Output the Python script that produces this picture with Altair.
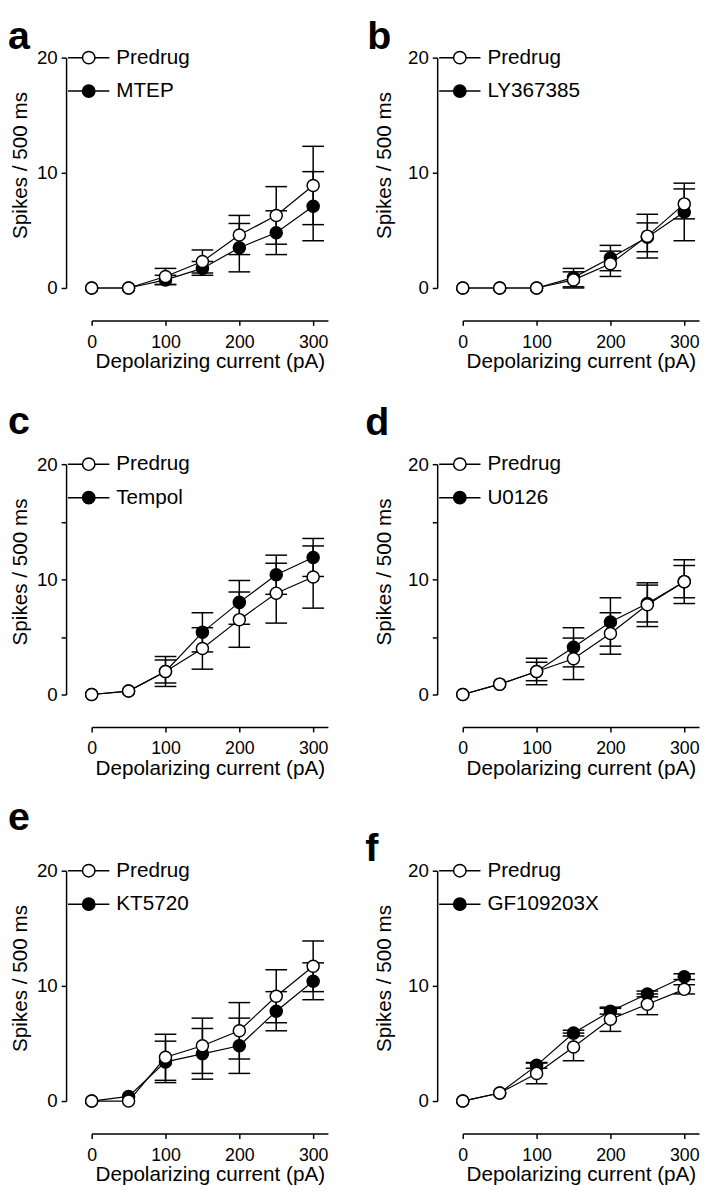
import altair as alt
import pandas as pd

# ---------------- data ----------------
current_pA = [0, 50, 100, 150, 200, 250, 300]

panel_labels = ["a", "b", "c", "d", "e", "f"]
drug_names = ["MTEP", "LY367385", "Tempol", "U0126", "KT5720", "GF109203X"]

pre_a = [0, 0, 1.0, 2.3, 4.6, 6.3, 8.9]
pre_a_err = [0, 0, 0.7, 1.0, 1.7, 2.5, 3.4]
drug_a = [0, 0, 0.7, 1.7, 3.5, 4.8, 7.1]
drug_a_err = [0, 0, 0.4, 0.6, 2.1, 1.9, 3.0]

pre_b = [0, 0, 0, 0.7, 2.1, 4.5, 7.3]
pre_b_err = [0, 0, 0, 0.7, 1.1, 1.9, 1.3]
drug_b = [0, 0, 0, 0.9, 2.6, 4.4, 6.6]
drug_b_err = [0, 0, 0, 0.8, 1.1, 1.25, 2.5]

pre_c = [0, 0.3, 2.0, 4.0, 6.5, 8.8, 10.2]
pre_c_err = [0, 0, 1.3, 1.8, 2.4, 2.6, 2.7]
drug_c = [0, 0.3, 2.0, 5.4, 8.0, 10.4, 11.9]
drug_c_err = [0, 0, 1.0, 1.7, 1.9, 1.7, 1.65]

pre_d = [0, 0.9, 2.0, 3.1, 5.3, 7.8, 9.8]
pre_d_err = [0, 0, 1.15, 1.8, 1.8, 1.9, 1.4]
drug_d = [0, 0.9, 2.0, 4.1, 6.3, 7.9, 9.8]
drug_d_err = [0, 0, 0.8, 1.7, 2.1, 1.6, 1.9]

pre_e = [0, 0, 3.8, 4.8, 6.1, 9.1, 11.7]
pre_e_err = [0, 0, 2.0, 2.4, 2.45, 2.3, 2.2]
drug_e = [0, 0.4, 3.4, 4.1, 4.8, 7.8, 10.4]
drug_e_err = [0, 0, 1.8, 2.2, 2.4, 1.7, 1.6]

pre_f = [0, 0.7, 2.4, 4.7, 7.1, 8.4, 9.7]
pre_f_err = [0, 0, 0.9, 1.2, 1.05, 0.9, 0.4]
drug_f = [0, 0.7, 3.1, 5.9, 7.8, 9.3, 10.8]
drug_f_err = [0, 0, 0.25, 0.25, 0.25, 0.25, 0.25]

x_ticks = [0, 100, 200, 300]
y_ticks_major = [0, 10, 20]
y_ticks_minor = [0, 5, 10, 15, 20]

FONT = "Liberation Sans"
LEGEND_SYMBOL = ("M-1.5,0L-0.45,0M0.45,0L1.5,0"
                 "M-0.45,0A0.45,0.45,0,1,1,0.45,0A0.45,0.45,0,1,1,-0.45,0Z")


def make_panel(label, drug, pre, pre_err, dm, dm_err, minor, lab_x, lab_y, ytitle_x):
    rows = []
    for s, means, errs in [("Predrug", pre, pre_err), (drug, dm, dm_err)]:
        for x, y, e in zip(current_pA, means, errs):
            rows.append({"x": x, "y": y, "err": e, "series": s,
                         "lo": y - e, "hi": y + e})
    df = pd.DataFrame(rows)
    base = alt.Chart(df)

    xscale = alt.Scale(domain=[0, 320], nice=False, zero=False)
    yscale = alt.Scale(domain=[0, 20], nice=False)
    xaxis = alt.Axis(values=x_ticks, offset=33, grid=False, labelFlush=False,
                     labelPadding=8, tickSize=5, labelFontSize=18,
                     title="Depolarizing current (pA)", titleY=48,
                     titleBaseline="alphabetic")
    yaxis = alt.Axis(values=y_ticks_minor if minor else y_ticks_major,
                     labelExpr="datum.value % 10 == 0 ? datum.label : ''",
                     offset=26, grid=False, labelPadding=4, tickSize=5,
                     labelFontSize=19,
                     title="Spikes / 500 ms", titleX=ytitle_x, titleY=109,
                     titleAngle=270, titleBaseline="alphabetic")

    X = alt.X("x:Q", scale=xscale, axis=xaxis)
    fill = alt.Fill("series:N",
                    scale=alt.Scale(domain=["Predrug", drug], range=["white", "black"]),
                    legend=alt.Legend(title=None, orient="none", legendX=-18, legendY=-15,
                                      symbolType=LEGEND_SYMBOL, symbolSize=784,
                                      symbolStrokeColor="black", symbolStrokeWidth=1.5,
                                      symbolOpacity=1, labelOffset=13, rowPadding=9,
                                      padding=0, labelFontSize=21, labelFont=FONT,
                                      labelColor="black"))

    errs = base.transform_filter("datum.err > 0")
    rules = errs.mark_rule(color="black", strokeWidth=1.5).encode(
        x=X, y=alt.Y("lo:Q", scale=yscale, axis=yaxis), y2="hi:Q")
    cap_lo = errs.mark_tick(orient="horizontal", size=22, thickness=1.5,
                            color="black", opacity=1).encode(
        x=X, y=alt.Y("lo:Q", scale=yscale, axis=yaxis))
    cap_hi = errs.mark_tick(orient="horizontal", size=22, thickness=1.5,
                            color="black", opacity=1).encode(
        x=X, y=alt.Y("hi:Q", scale=yscale, axis=yaxis))

    def series_layers(name):
        sub = base.transform_filter(alt.datum.series == name)
        line = sub.mark_line(color="black", strokeWidth=1.2).encode(
            x=X, y=alt.Y("y:Q", scale=yscale, axis=yaxis))
        pts = sub.mark_point(filled=True, size=150, stroke="black",
                             strokeWidth=1.5, opacity=1).encode(
            x=X, y=alt.Y("y:Q", scale=yscale, axis=yaxis), fill=fill)
        return [line, pts]

    lab = alt.Chart(pd.DataFrame({"t": [label]})).mark_text(
        font=FONT, fontSize=40, fontWeight="bold",
        align="left", baseline="top", color="black").encode(
        text="t:N", x=alt.value(lab_x), y=alt.value(lab_y))

    layers = [rules, cap_lo, cap_hi] + series_layers(drug) + series_layers("Predrug") + [lab]
    return alt.layer(*layers).properties(width=240, height=234)


panels = [
    make_panel("a", drug_names[0], pre_a, pre_a_err, drug_a, drug_a_err, False, -85, -40.6, -40),
    make_panel("b", drug_names[1], pre_b, pre_b_err, drug_b, drug_b_err, False, -97, -40.6, -47),
    make_panel("c", drug_names[2], pre_c, pre_c_err, drug_c, drug_c_err, True, -85, -62.6, -40),
    make_panel("d", drug_names[3], pre_d, pre_d_err, drug_d, drug_d_err, True, -99, -61.6, -47),
    make_panel("e", drug_names[4], pre_e, pre_e_err, drug_e, drug_e_err, False, -85, -73.6, -40),
    make_panel("f", drug_names[5], pre_f, pre_f_err, drug_f, drug_f_err, False, -99, -41.6, -47),
]

chart = alt.concat(*panels, columns=2, spacing={"row": 179, "column": 137},
                   bounds="flush").resolve_scale(fill="independent").properties(
    padding=0
).configure_view(strokeOpacity=0).configure_axis(
    labelFont=FONT, titleFont=FONT, titleFontSize=21,
    titleFontWeight="normal", labelColor="black", titleColor="black",
    domainColor="black", tickColor="black", domainWidth=1.5, tickWidth=1.5
)

chart.save("out.html", embed_options={"renderer": "svg", "actions": False})
